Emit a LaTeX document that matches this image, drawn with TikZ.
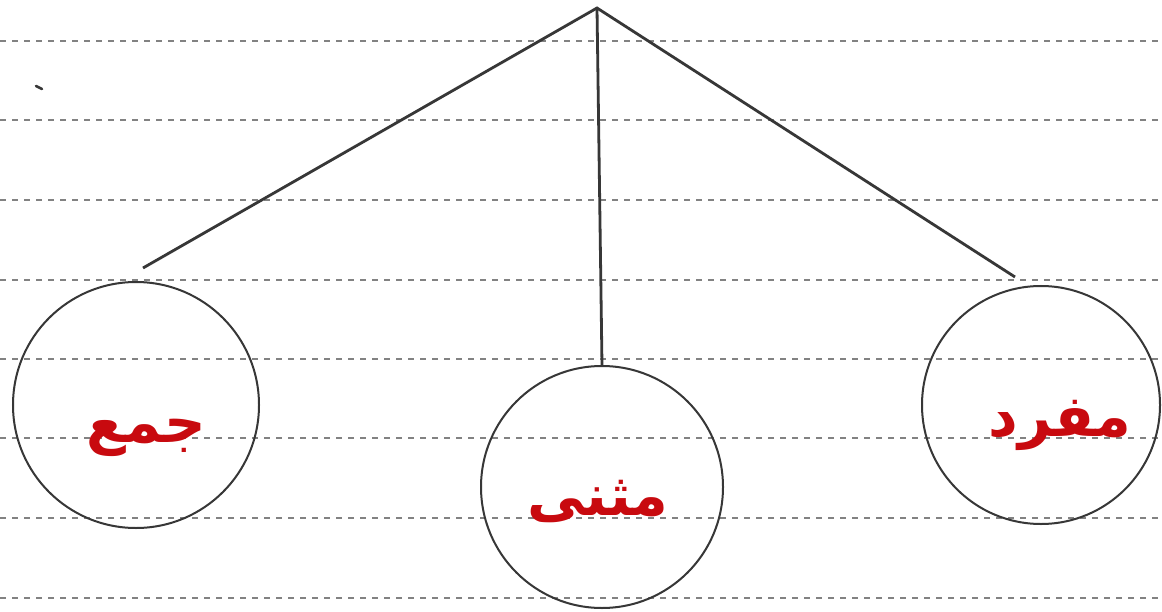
\documentclass[tikz,border=0pt]{standalone}
\usepackage{fontspec}
\newfontfamily\arabicfont[Script=Arabic]{DejaVu Sans}
\TeXXeTstate=1
\definecolor{inkred}{RGB}{200,10,15}
\definecolor{pen}{RGB}{55,55,55}
\definecolor{ruled}{RGB}{130,130,130}
\begin{document}
\begin{tikzpicture}[x=1bp,y=-1bp,
  ruleline/.style={ruled,line width=2bp,dash pattern=on 6bp off 6bp},
  leaf/.style={circle,draw=pen,line width=2bp,inner sep=0pt},
  branch/.style={pen,line width=2.8bp},
  word/.style={text=inkred,font=\arabicfont\bfseries\fontsize{58}{66}\selectfont}]
\path[use as bounding box,fill=white] (0,0) rectangle (1162,612);
\foreach \y in {41,120,200,280,359,438,518,598}
  \draw[ruleline] (0,\y) -- (1162,\y);
\node[leaf,minimum size=246bp] (jam) at (136,405) {};
\node[leaf,minimum size=242bp] (muth) at (602,487) {};
\node[leaf,minimum size=238bp] (muf) at (1041,405) {};
\node[word] at (146,438) {\beginR جمع\endR};
\node[word] at (598,502) {\beginR مثنى\endR};
\node[word] at (1060,425) {\beginR مفرد\endR};
\coordinate (apex) at (597,8);
\coordinate (lend) at (143,268);
\coordinate (rend) at (1015,277);
\draw[branch] (lend) -- (apex) -- (rend);
\draw[branch] (apex) -- (muth.north);
\draw[pen,line width=2.5bp,line cap=round] (36,86) -- (42,89);
\end{tikzpicture}
\end{document}
